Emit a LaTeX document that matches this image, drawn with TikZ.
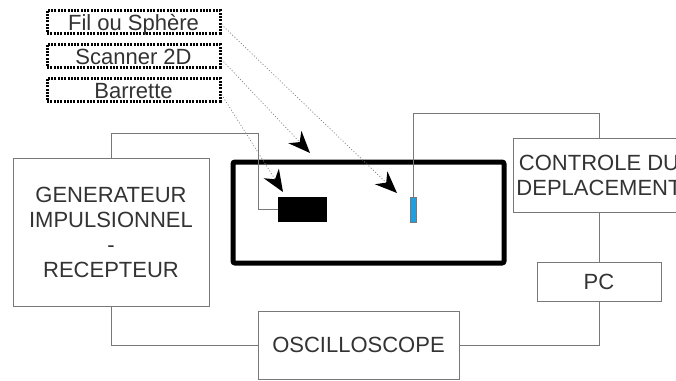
\documentclass[tikz,border=0pt]{standalone}
\usepackage{fontspec}
\setmainfont{Liberation Sans}
\usetikzlibrary{arrows.meta,positioning}
\definecolor{txtgray}{RGB}{51,51,51}
\definecolor{wiregray}{RGB}{120,120,120}
\definecolor{probeblue}{RGB}{30,160,225}

\begin{document}
\begin{tikzpicture}[x=1pt,y=-1pt,
    bloc/.style={draw=wiregray,line width=1pt,inner sep=0pt,align=center,
      text=txtgray,font=\fontsize{22}{25}\selectfont},
    tag/.style={draw=black,line width=3pt,dash pattern=on 2pt off 1.3pt,
      minimum width=173pt,text height=20pt,text depth=3pt,inner sep=0pt,
      text=txtgray,font=\fontsize{22}{25}\selectfont},
    wire/.style={wiregray,line width=1pt},
    pointer/.style={gray,line width=0.7pt,dash pattern=on 1pt off 2pt,
      -{Stealth[length=22pt,width=18pt,inset=7pt,color=black,fill=black,line width=0pt]}}]
  \path[clip] (0,0) rectangle (676,380);
  \fill[white] (0,0) rectangle (676,380);
  % labels on top
  \node[tag] (fil) at (133.5,21.5) {Fil ou Sphère};
  \node[tag] (scanner) at (133.5,55.5) {Scanner 2D};
  \node[tag] (barrette) at (133.5,89.5) {Barrette};
  % water tank with the transducers
  \node[draw=black,line width=5pt,rounded corners=2pt,minimum width=271pt,
    minimum height=101pt,inner sep=0pt] (cuve) at (368.5,212.5) {};
  \node[fill=black,minimum width=49pt,minimum height=25pt,inner sep=0pt] (barre) at (302.5,209.5) {};
  \node[fill=probeblue,draw=wiregray,line width=0.6pt,minimum width=6pt,
    minimum height=25pt,inner sep=0pt] (sonde) at (413,209.5) {};
  % equipment
  \node[bloc,minimum width=196pt,minimum height=148pt] (gen) at (111,232)
    {GENERATEUR\\IMPULSIONNEL\\-\\RECEPTEUR};
  \node[bloc,minimum width=201pt,minimum height=68pt] (osc) at (358.5,345) {OSCILLOSCOPE};
  \node[bloc,minimum width=172pt,minimum height=74pt] (ctrl) at (599,175)
    {CONTROLE DU\\DEPLACEMENT};
  \node[bloc,minimum width=124pt,minimum height=39pt] (pc) at (599,281.5) {PC};
  % cables
  \coordinate (k1) at (258,133);
  \coordinate (k2) at (599,113);
  \draw[wire] (barre.west) -| (k1) -| (gen.north);
  \draw[wire] (sonde.north) |- (k2) -- (ctrl.north);
  \draw[wire] (gen.south) |- (osc.west);
  \draw[wire] (osc.east) -| (pc.south);
  \draw[wire] (ctrl.south) -- (pc.north);
  % pointers
  \coordinate (tF) at (397,193);
  \coordinate (tS) at (310,153);
  \coordinate (tB) at (283,192);
  \draw[pointer] ([yshift=-3pt]fil.east) -- (tF);
  \draw[pointer] ([yshift=-4pt]scanner.east) -- (tS);
  \draw[pointer] ([yshift=-5pt]barrette.east) -- (tB);
\end{tikzpicture}
\end{document}
